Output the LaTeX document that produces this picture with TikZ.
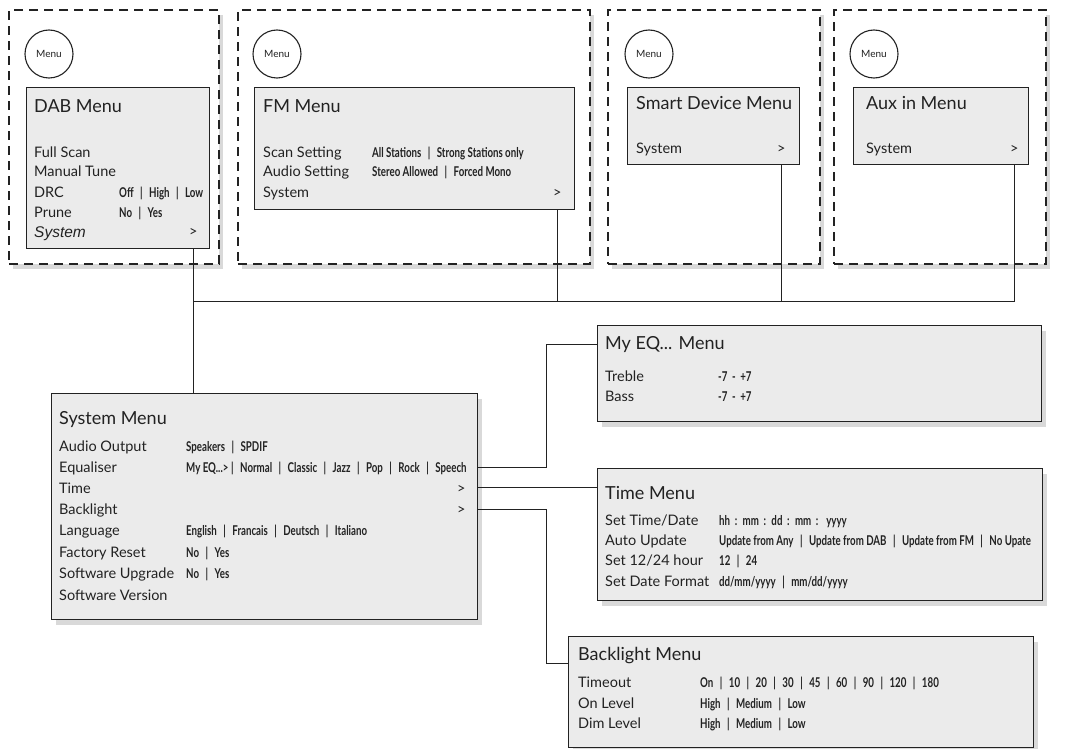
\documentclass[tikz,border=0pt]{standalone}
\usepackage{fontspec}
\setmainfont{Lato}
\newfontfamily\valfont[FakeStretch=0.72]{Lato Bold}
\newfontfamily\arialfont{Liberation Sans}
\usepackage{xcolor}
\usetikzlibrary{calc, positioning, shadows}

\definecolor{boxgray}{HTML}{EBEBEB}
\definecolor{inkgray}{HTML}{222222}

\newcommand{\optsep}{\hspace{0.48em}|\hspace{0.48em}}

\tikzset{
  dashframe/.style={draw=inkgray, line width=2.2pt, dash pattern=on 9pt off 6pt,
    fill=white, anchor=north west, inner sep=0pt,
    drop shadow={opacity=0.3, shadow xshift=4pt, shadow yshift=-5pt}},
  menubox/.style={draw=inkgray, line width=1.4pt, fill=boxgray, anchor=north west, inner sep=0pt},
  shadowbox/.style={menubox, drop shadow={opacity=0.3, shadow xshift=4pt, shadow yshift=-5pt}},
  menukey/.style={circle, draw=inkgray, line width=1.1pt, minimum size=48pt, inner sep=0pt,
    font=\fontsize{10}{11}\selectfont, text=inkgray},
  headline/.style={anchor=base west, inner sep=0pt, font=\fontsize{18}{20}\selectfont, text=inkgray},
  itemrow/.style={anchor=base west, inner sep=0pt, font=\fontsize{14.5}{16}\selectfont, text=inkgray},
  optval/.style={anchor=base west, inner sep=0pt, font=\valfont\fontsize{13.5}{14}\selectfont, text=inkgray},
  wire/.style={draw=inkgray, line width=1pt},
}

\begin{document}
\begin{tikzpicture}[x=1pt, y=-1pt]
    \useasboundingbox (0,0) rectangle (1066,749);

    % =================================================================
    % 1. SOURCE MENUS (dashed frames, Menu key, grey menu box)
    % =================================================================
    \node[dashframe, minimum width=210pt, minimum height=254pt] (dabframe) at (8,9) {};
    \node[dashframe, minimum width=352pt, minimum height=254pt] (fmframe) at (237,9) {};
    \node[dashframe, minimum width=212pt, minimum height=254pt] (smartframe) at (607,9) {};
    \node[dashframe, minimum width=212pt, minimum height=254pt] (auxframe) at (833,9) {};

    \node[menukey] (dabkey) at (49,54) {Menu};
    \node[menukey] (fmkey) at (277,54) {Menu};
    \node[menukey] (smartkey) at (649,54) {Menu};
    \node[menukey] (auxkey) at (874,54) {Menu};

    \node[menubox, minimum width=183pt, minimum height=161pt] (dabbox) at (26,87) {};
    \node[menubox, minimum width=320pt, minimum height=122pt] (fmbox) at (254,87) {};
    \node[menubox, minimum width=172pt, minimum height=77pt] (smartbox) at (627,87) {};
    \node[menubox, minimum width=175pt, minimum height=77pt] (auxbox) at (853,87) {};

    % DAB
    \node[headline] (dabhead) at (34,113) {DAB Menu};
    \node[itemrow] (dabscan) at (34,158) {Full Scan};
    \node[itemrow] (dabtune) at (34,177) {Manual Tune};
    \node[itemrow] (dabdrc) at (34,197) {DRC};
    \node[itemrow] (dabprune) at (34,217) {Prune};
    \node[itemrow, font=\arialfont\itshape\fontsize{15.5}{16}\selectfont] (dabsys) at (34,237) {System};
    \node[optval] (dabdrcval) at (119,197) {Off\optsep High\optsep Low};
    \node[optval] (dabpruneval) at (119,217) {No\optsep Yes};
    \node[itemrow] (dabgt) at (189,236) {>};

    % FM
    \node[headline] (fmhead) at (263,113) {FM Menu};
    \node[itemrow] (fmscan) at (263,158) {Scan Setting};
    \node[itemrow] (fmaudio) at (263,177) {Audio Setting};
    \node[itemrow] (fmsys) at (263,197) {System};
    \node[optval] (fmscanval) at (372,158) {All Stations\optsep Strong Stations only};
    \node[optval] (fmaudioval) at (372,177) {Stereo Allowed\optsep Forced Mono};
    \node[itemrow] (fmgt) at (553,197) {>};

    % Smart Device
    \node[headline] (smarthead) at (636,110) {Smart Device Menu};
    \node[itemrow] (smartsys) at (636,154) {System};
    \node[itemrow] (smartgt) at (777,154) {>};

    % Aux in
    \node[headline] (auxhead) at (866,110) {Aux in Menu};
    \node[itemrow] (auxsys) at (866,154) {System};
    \node[itemrow] (auxgt) at (1010,154) {>};

    % =================================================================
    % 2. SYSTEM MENU AND ITS SUB MENUS
    % =================================================================
    \node[shadowbox, minimum width=426pt, minimum height=226pt] (sysbox) at (51,393) {};
    \node[shadowbox, minimum width=444pt, minimum height=96pt] (myeqbox) at (597,325) {};
    \node[shadowbox, minimum width=445pt, minimum height=132pt] (timebox) at (597,468) {};
    \node[shadowbox, minimum width=465pt, minimum height=111pt] (backbox) at (568,636) {};

    % System
    \node[headline] (syshead) at (59,424) {System Menu};
    \node[itemrow] (sysaudio) at (59,451) {Audio Output};
    \node[itemrow] (syseq) at (59,472) {Equaliser};
    \node[itemrow] (systime) at (59,493) {Time};
    \node[itemrow] (sysback) at (59,514) {Backlight};
    \node[itemrow] (syslang) at (59,535) {Language};
    \node[itemrow] (sysreset) at (59,557) {Factory Reset};
    \node[itemrow] (sysupgrade) at (59,578) {Software Upgrade};
    \node[itemrow] (sysversion) at (59,600) {Software Version};
    \node[optval] (sysaudioval) at (186,451) {Speakers\optsep SPDIF};
    \node[optval] (syseqval) at (186,472) {My EQ...>\hspace{0.2em}|\hspace{0.48em}Normal\optsep Classic\optsep Jazz\optsep Pop\optsep Rock\optsep Speech};
    \node[itemrow] (systimegt) at (457,493) {>};
    \node[itemrow] (sysbackgt) at (457,514) {>};
    \node[optval] (syslangval) at (186,535) {English\optsep Francais\optsep Deutsch\optsep Italiano};
    \node[optval] (sysresetval) at (186,557) {No\optsep Yes};
    \node[optval] (sysupgradeval) at (186,578) {No\optsep Yes};

    % My EQ
    \node[headline] (myeqhead) at (605,349) {My EQ... Menu};
    \node[itemrow] (myeqtreble) at (605,381) {Treble};
    \node[itemrow] (myeqbass) at (605,401) {Bass};
    \node[optval] (myeqtrebleval) at (718,381) {-7 \,-\, +7};
    \node[optval] (myeqbassval) at (718,401) {-7 \,-\, +7};

    % Time
    \node[headline] (timehead) at (605,499) {Time Menu};
    \node[itemrow] (timeset) at (605,525) {Set Time/Date};
    \node[itemrow] (timeauto) at (605,545) {Auto Update};
    \node[itemrow] (timehour) at (605,565) {Set 12/24 hour};
    \node[itemrow] (timeformat) at (605,586) {Set Date Format};
    \node[optval] (timesetval) at (719,525) {hh \,:\, mm \,:\, dd \,:\, mm \,: \ \ yyyy};
    \node[optval] (timeautoval) at (719,545) {Update from Any\optsep Update from DAB\optsep Update from FM\optsep No Upate};
    \node[optval] (timehourval) at (719,565) {12\optsep 24};
    \node[optval] (timeformatval) at (719,586) {dd/mm/yyyy\optsep mm/dd/yyyy};

    % Backlight
    \node[headline] (backhead) at (578,660) {Backlight Menu};
    \node[itemrow] (backtimeout) at (578,687) {Timeout};
    \node[itemrow] (backon) at (578,708) {On Level};
    \node[itemrow] (backdim) at (578,728) {Dim Level};
    \node[optval] (backtimeoutval) at (700,687) {On\optsep 10\optsep 20\optsep 30\optsep 45\optsep 60\optsep 90\optsep 120\optsep 180};
    \node[optval] (backonval) at (700,708) {High\optsep Medium\optsep Low};
    \node[optval] (backdimval) at (700,728) {High\optsep Medium\optsep Low};

    % =================================================================
    % 3. CONNECTING LINES
    % =================================================================
    \coordinate (bus) at (0,301);
    \coordinate (branch) at (546,0);

    \draw[wire] (dabbox.south -| dabgt) -- (sysbox.north -| dabgt);
    \draw[wire] (dabgt |- bus) -| (auxbox.south -| auxgt);
    \draw[wire] (fmbox.south -| fmgt) -- (fmgt |- bus);
    \draw[wire] (smartbox.south -| smartgt) -- (smartgt |- bus);

    \draw[wire] (sysbox.east |- syseq) -| (branch |- myeqhead.west) -- (myeqbox.west |- myeqhead.west);
    \draw[wire] (sysbox.east |- systime) -- (timebox.west |- systime);
    \draw[wire] (sysbox.east |- sysback) -| (branch |- backhead.south) -- (backbox.west |- backhead.south);

\end{tikzpicture}
\end{document}
